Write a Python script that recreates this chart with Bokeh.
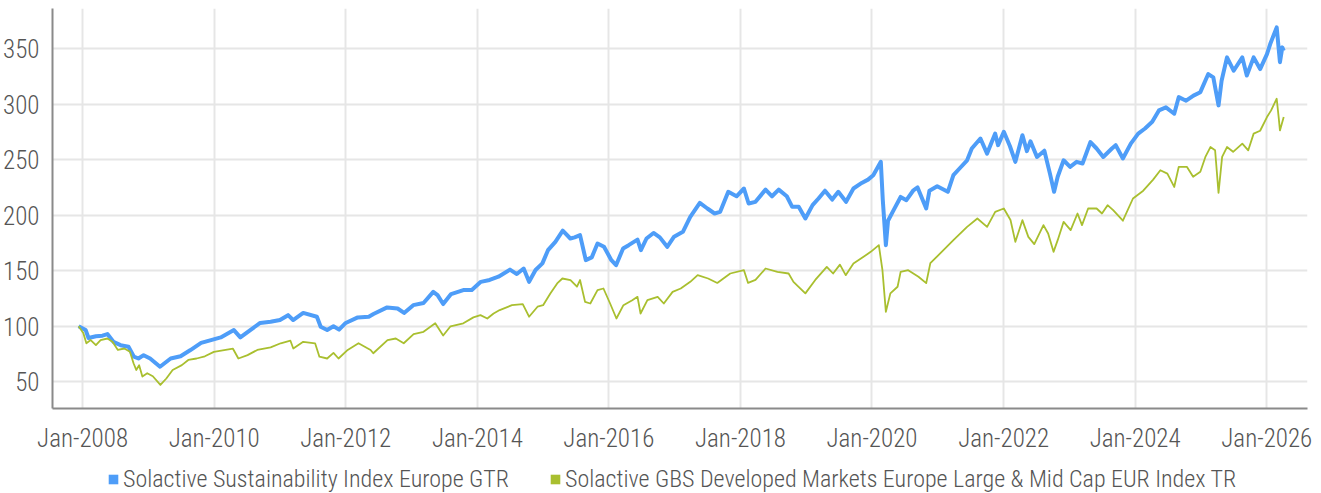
from datetime import datetime
import pandas as pd
from bokeh.plotting import figure
from bokeh.layouts import column
from bokeh.models import Range1d, FixedTicker, DatetimeTickFormatter, Legend, LegendItem
from bokeh.embed import file_html
from bokeh.resources import INLINE

series_names = ["Solactive Sustainability Index Europe GTR",
                "Solactive GBS Developed Markets Europe Large & Mid Cap EUR Index TR"]

blue_dates = [
    "2007-12-10", "2008-01-18", "2008-02-03", "2008-03-15", "2008-04-20", "2008-05-18", "2008-06-20",
    "2008-07-30", "2008-09-12", "2008-10-12", "2008-11-06", "2008-12-05",
    "2009-01-10", "2009-03-06", "2009-05-04", "2009-06-28", "2009-08-22", "2009-10-20", "2009-12-14",
    "2010-02-06", "2010-04-20", "2010-05-26", "2010-07-20", "2010-09-13", "2010-11-10",
    "2011-01-01", "2011-02-15", "2011-03-15", "2011-05-10", "2011-07-25", "2011-08-15", "2011-09-20",
    "2011-10-25", "2011-11-25",
    "2012-01-01", "2012-03-08", "2012-05-08", "2012-06-03", "2012-08-18", "2012-10-15", "2012-11-20",
    "2013-01-10", "2013-03-08", "2013-05-01", "2013-05-25", "2013-06-25", "2013-08-08", "2013-10-15",
    "2013-12-01",
    "2014-01-20", "2014-03-10", "2014-04-28", "2014-07-01", "2014-08-08", "2014-09-15", "2014-10-15",
    "2014-11-20", "2014-12-28",
    "2015-01-28", "2015-03-10", "2015-04-20", "2015-06-01", "2015-06-25", "2015-07-25", "2015-08-26",
    "2015-09-28", "2015-10-30", "2015-12-05",
    "2016-01-15", "2016-02-10", "2016-03-20", "2016-04-20", "2016-06-08", "2016-06-27", "2016-07-28",
    "2016-09-05", "2016-10-10", "2016-11-20", "2016-12-28",
    "2017-02-15", "2017-03-28", "2017-05-20", "2017-07-01", "2017-08-10", "2017-09-10", "2017-10-25",
    "2017-12-10",
    "2018-01-20", "2018-02-15", "2018-03-25", "2018-05-20", "2018-06-25", "2018-08-01", "2018-09-15",
    "2018-10-15", "2018-11-20", "2018-12-27",
    "2019-02-05", "2019-03-10", "2019-04-15", "2019-05-25", "2019-06-28", "2019-08-10", "2019-09-20",
    "2019-11-05", "2019-12-10",
    "2020-01-08", "2020-02-19", "2020-03-01", "2020-03-18", "2020-03-30", "2020-04-30", "2020-06-08",
    "2020-07-10", "2020-08-18", "2020-09-10", "2020-10-28", "2020-11-15", "2020-12-28",
    "2021-02-25", "2021-03-28", "2021-05-01", "2021-06-12", "2021-07-08", "2021-08-25", "2021-10-01",
    "2021-11-15", "2021-12-01",
    "2022-01-02", "2022-02-05", "2022-03-07", "2022-04-15", "2022-05-10", "2022-05-30", "2022-07-05",
    "2022-08-15", "2022-09-15", "2022-10-08", "2022-10-28", "2022-11-30",
    "2023-01-05", "2023-02-10", "2023-03-15", "2023-04-28", "2023-06-01", "2023-07-08", "2023-08-25",
    "2023-09-15", "2023-10-25", "2023-12-08",
    "2024-01-18", "2024-02-25", "2024-04-05", "2024-05-12", "2024-06-20", "2024-08-05", "2024-08-30",
    "2024-10-10", "2024-11-20", "2024-12-28",
    "2025-02-10", "2025-03-10", "2025-04-08", "2025-04-25", "2025-05-25", "2025-07-01", "2025-08-18",
    "2025-09-12", "2025-10-20", "2025-11-25",
    "2026-01-02", "2026-01-20", "2026-02-25", "2026-03-15", "2026-03-28", "2026-04-05"]

blue_values = [
    100, 96.6, 89.5, 91, 91.5, 93, 86, 83, 81.6, 72.6, 71, 74,
    71, 63.6, 71, 73, 78.6, 85, 87.6,
    90, 96.6, 90, 96.6, 103, 104,
    105.6, 110, 105.6, 112, 108.6, 99.6, 96.6, 100, 97,
    103, 108, 108.6, 111, 117, 116, 112,
    119, 121, 131, 128, 120, 129, 132.6, 132.6,
    140, 141.7, 144.6, 151, 147, 152, 140, 150.6, 156.6,
    168.5, 176, 186, 179, 180, 182, 159.5, 162, 174.5, 171.5,
    159.5, 155, 170, 173, 178, 168.5, 179, 184, 180, 171.5, 180.6,
    185, 198.4, 211, 206, 201.5, 203, 221, 217,
    224, 210.5, 212, 223, 217, 223, 217, 207.5, 207.5, 197,
    209, 215, 222, 214, 221, 212, 224, 229, 232,
    236, 248, 213.5, 173, 195, 204.5, 216.4, 213.5, 222.4, 225, 206, 222, 226,
    221, 236, 242, 249.4, 260, 269, 255.4, 273.4, 263,
    275, 262, 248, 272, 257.6, 266.5, 252.4, 258, 237.4, 221, 234.6, 249.4,
    243.5, 248, 246.5, 265.8, 260, 252.4, 260, 263, 251, 264.4,
    273.4, 278, 284, 294.3, 297, 291.3, 306.2, 303, 307.6, 310.7,
    327, 324, 298.8, 321, 342, 330, 342, 325.7, 342, 331.5,
    345, 354, 369, 337.7, 351, 348]

green_dates = [
    "2007-12-10", "2008-01-05", "2008-01-22", "2008-02-15", "2008-03-15", "2008-04-10", "2008-05-18",
    "2008-06-15", "2008-07-15", "2008-08-20", "2008-09-20", "2008-10-10", "2008-10-25", "2008-11-10",
    "2008-11-28", "2008-12-25",
    "2009-01-25", "2009-03-08", "2009-04-10", "2009-05-15", "2009-07-05", "2009-08-10", "2009-09-25",
    "2009-11-10", "2009-12-30",
    "2010-04-15", "2010-05-15", "2010-07-05", "2010-08-28", "2010-11-10",
    "2011-01-05", "2011-02-28", "2011-03-16", "2011-05-10", "2011-07-15", "2011-08-08", "2011-09-20",
    "2011-10-25", "2011-11-22",
    "2012-01-12", "2012-03-12", "2012-05-18", "2012-06-02", "2012-08-20", "2012-10-05", "2012-11-18",
    "2013-01-12", "2013-03-08", "2013-05-12", "2013-06-25", "2013-08-05", "2013-10-15", "2013-12-10",
    "2014-01-18", "2014-02-25", "2014-04-01", "2014-05-05", "2014-07-12", "2014-09-10", "2014-10-15",
    "2014-12-01",
    "2015-01-01", "2015-02-10", "2015-03-20", "2015-04-18", "2015-06-02", "2015-07-08", "2015-07-25",
    "2015-08-22", "2015-09-20", "2015-10-30", "2015-12-02",
    "2016-01-08", "2016-02-12", "2016-03-22", "2016-05-10", "2016-06-08", "2016-06-25", "2016-08-02",
    "2016-09-28", "2016-11-01", "2016-12-20",
    "2017-02-03", "2017-03-28", "2017-05-08", "2017-07-05", "2017-08-25", "2017-11-05",
    "2018-01-20", "2018-02-12", "2018-03-25", "2018-05-20", "2018-07-25", "2018-09-25", "2018-10-22",
    "2018-12-27",
    "2019-02-20", "2019-04-25", "2019-05-30", "2019-07-07", "2019-08-08", "2019-09-20", "2019-11-15",
    "2019-12-25",
    "2020-02-08", "2020-02-28", "2020-03-18", "2020-04-12", "2020-05-22", "2020-06-08", "2020-07-20",
    "2020-09-15", "2020-10-28", "2020-11-20",
    "2021-01-15", "2021-03-28", "2021-06-12", "2021-08-08", "2021-10-01", "2021-11-15",
    "2022-01-02", "2022-02-08", "2022-03-07", "2022-04-15", "2022-05-18", "2022-06-20", "2022-08-10",
    "2022-09-05", "2022-10-05", "2022-10-28", "2022-11-30",
    "2023-01-08", "2023-02-15", "2023-03-12", "2023-04-15", "2023-06-01", "2023-07-01", "2023-08-01",
    "2023-09-01", "2023-10-25", "2023-12-20",
    "2024-02-15", "2024-04-10", "2024-05-20", "2024-06-28", "2024-08-05", "2024-08-30", "2024-10-15",
    "2024-11-18", "2024-12-28",
    "2025-01-25", "2025-02-22", "2025-03-20", "2025-04-08", "2025-04-28", "2025-05-25", "2025-06-28",
    "2025-08-18", "2025-09-20", "2025-10-20", "2025-11-25",
    "2026-01-02", "2026-01-25", "2026-02-25", "2026-03-08", "2026-03-15", "2026-04-05"]

green_values = [
    100, 94, 84.7, 87.6, 83, 87.6, 89, 86, 78.7, 80, 77, 66.7, 60.7, 65, 54.7, 57.7,
    55, 47.2, 53, 60.7, 65, 69.7, 71, 73, 77,
    79.8, 71, 74, 78.7, 81,
    84.7, 87, 80, 86, 84.7, 72.6, 71, 76, 71,
    78.7, 84.7, 78.7, 75.7, 87.6, 89, 84.7,
    93, 95, 102.7, 91.7, 100, 102.7, 108,
    110, 107, 111.5, 114.6, 119, 120, 108.6, 117.6,
    119, 129.5, 138.6, 143, 141.6, 135.6, 141.6, 122, 120.5, 132.6, 134,
    120.5, 107, 119, 123.5, 126.5, 111.5, 123.5, 126.5, 120.5, 131,
    134, 140, 146, 143, 139, 147.5,
    150.5, 139, 141.7, 152, 149, 147.5, 140, 129.6,
    141.7, 153.5, 147.5, 155.5, 146, 156.4, 162.5, 167,
    173, 150.5, 113, 129.6, 135.6, 149, 150.5, 144.6, 138.8, 156.8,
    165.8, 177.5, 189.5, 197, 189.5, 203,
    206, 195.6, 176, 195.5, 180.5, 174, 191, 183.5, 167, 177.5, 194,
    186.6, 201.5, 191, 206, 206, 201.5, 209, 204.5, 195, 215,
    222, 232, 240.4, 237.4, 225.4, 243.4, 243.4, 234.5, 239,
    252.4, 261.3, 258.4, 220, 252.4, 261.3, 257, 264.4, 258.4, 273.4, 276,
    288.3, 294.3, 304.8, 288, 276.3, 288.3]

y_ticks = [50, 100, 150, 200, 250, 300, 350]
x_tick_years = [2008, 2010, 2012, 2014, 2016, 2018, 2020, 2022, 2024, 2026]

BLUE = "#4e9df8"
GREEN = "#a9bf2f"
TEXT = "#555555"
GRID = "#e6e6e6"
AXIS = "#8a8a8a"
FONT = "'Roboto Condensed Light', 'Roboto Condensed', 'Liberation Sans Narrow', sans-serif"

bx = pd.to_datetime(blue_dates)
gx = pd.to_datetime(green_dates)

p = figure(width=1321, height=461, x_axis_type="datetime", output_backend="svg",
           toolbar_location=None,
           x_range=Range1d(datetime(2007, 7, 18), datetime(2026, 8, 15)),
           y_range=Range1d(26, 386),
           min_border_left=52, min_border_right=14, min_border_top=8, min_border_bottom=53)
p.outline_line_color = None

p.line(bx, blue_values, line_color=BLUE, line_width=4, line_join="round")
p.line(gx, green_values, line_color=GREEN, line_width=1.8, line_join="round")

tick_ms = [datetime(y, 1, 1).timestamp() * 1000 for y in x_tick_years]
p.xaxis.ticker = FixedTicker(ticks=tick_ms)
p.xaxis.formatter = DatetimeTickFormatter(years="%b-%Y", months="%b-%Y", days="%b-%Y")
p.yaxis.ticker = FixedTicker(ticks=y_ticks)

for ax in (p.xaxis, p.yaxis):
    ax.axis_line_color = AXIS
    ax.axis_line_width = 2
    ax.major_tick_line_color = None
    ax.minor_tick_line_color = None
    ax.major_label_text_font = FONT
    ax.major_label_text_font_size = "25px"
    ax.major_label_text_color = TEXT
p.xaxis.major_label_standoff = 9
p.yaxis.major_label_standoff = 7

p.xgrid.grid_line_color = GRID
p.xgrid.grid_line_width = 2
p.ygrid.grid_line_color = GRID
p.ygrid.grid_line_width = 2

# legend strip below the chart (swatch glyphs sit outside the visible range)
lf = figure(width=1321, height=32, output_backend="svg", toolbar_location=None,
            x_range=Range1d(0, 1), y_range=Range1d(0, 1),
            x_axis_location=None, y_axis_location=None,
            min_border_left=0, min_border_right=0, min_border_top=0, min_border_bottom=0)
lf.outline_line_color = None
lf.xgrid.visible = False
lf.ygrid.visible = False
lb = lf.quad(top=[-5], bottom=[-6], left=[-6], right=[-5], fill_color=BLUE, line_color=None)
lg = lf.quad(top=[-5], bottom=[-6], left=[-6], right=[-5], fill_color=GREEN, line_color=None)
legend = Legend(items=[LegendItem(label=series_names[0], renderers=[lb]),
                       LegendItem(label=series_names[1], renderers=[lg])],
                orientation="horizontal", location=(55, 0),
                label_text_font=FONT, label_text_font_size="24px", label_text_color=TEXT,
                glyph_width=12, glyph_height=12, label_standoff=4, spacing=40,
                padding=0, margin=0, border_line_color=None, background_fill_alpha=0)
lf.add_layout(legend, "center")

open("out.html", "w").write(file_html(column(p, lf, spacing=0), INLINE))
